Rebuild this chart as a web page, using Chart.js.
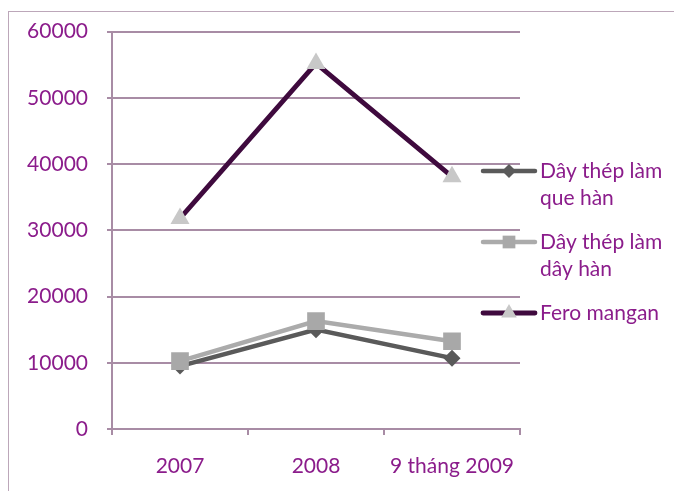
<!DOCTYPE html>
<html>
<head>
<meta charset="utf-8">
<script src="https://cdn.jsdelivr.net/npm/chart.js@4/dist/chart.umd.min.js"></script>
<style>
  html, body { margin: 0; padding: 0; background: #fff; }
  #wrap { position: relative; width: 674px; height: 491px; overflow: hidden; }
  #frame { position: absolute; left: 8px; top: 11px; width: 700px; height: 520px;
           border-left: 1.5px solid #BCA7B9; border-top: 1.5px solid #BCA7B9; box-sizing: border-box; }
  canvas { position: absolute; left: 0; top: 0; }
</style>
</head>
<body>
<div id="wrap">
  <div id="frame"></div>
  <canvas id="c" width="674" height="491"></canvas>
</div>
<script>
// Categories and values
const categories = ['2007', '2008', '9 tháng 2009'];
const queHan = [9500, 15000, 10700];
const dayHan = [10250, 16300, 13250];
const feroMangan = [31800, 55200, 38100];
const yTicks = [0, 10000, 20000, 30000, 40000, 50000, 60000];
const seriesNames = [
  ['Dây thép làm', 'que hàn'],
  ['Dây thép làm', 'dây hàn'],
  ['Fero mangan']
];

const TEXT = '#8B1C8B';
const GRID = '#A88CA5';
const FONT = 'Lato, "Open Sans", sans-serif';

// Legend at the right, with wrapped names
const sideLegend = {
  id: 'sideLegend',
  afterDraw(chart) {
    const ctx = chart.ctx;
    const x0 = 483, x1 = 535, tx = 540;
    const starts = [171, 242, 313];
    const legendRadius = { triangle: 9, rect: 9, rectRot: 7 };
    chart.data.datasets.forEach((ds, i) => {
      const y = starts[i];
      ctx.save();
      ctx.strokeStyle = ds.borderColor;
      ctx.lineWidth = ds.borderWidth;
      ctx.lineCap = 'round';
      ctx.beginPath();
      ctx.moveTo(x0, y);
      ctx.lineTo(x1, y);
      ctx.stroke();
      ctx.fillStyle = ds.pointBackgroundColor;
      Chart.helpers.drawPoint(ctx, {
        pointStyle: ds.pointStyle,
        radius: legendRadius[ds.pointStyle],
        rotation: 0,
        borderWidth: 0
      }, (x0 + x1) / 2, y);
      ctx.fillStyle = TEXT;
      ctx.font = '21px ' + FONT;
      ctx.textBaseline = 'middle';
      ctx.textAlign = 'left';
      seriesNames[i].forEach((line, k) => {
        ctx.fillText(line, tx, y + k * 27);
      });
      ctx.restore();
    });
  }
};

new Chart(document.getElementById('c'), {
  type: 'line',
  data: {
    labels: categories,
    datasets: [
      {
        label: seriesNames[0].join(' '),
        data: queHan,
        borderColor: '#5A5A5A',
        backgroundColor: '#5A5A5A',
        pointBackgroundColor: '#5A5A5A',
        borderWidth: 4.5,
        pointStyle: 'rectRot',
        pointRadius: 8.5,
        pointBorderWidth: 0,
        order: 2
      },
      {
        label: seriesNames[1].join(' '),
        data: dayHan,
        borderColor: '#ABABAB',
        backgroundColor: '#A8A8A8',
        pointBackgroundColor: '#A8A8A8',
        borderWidth: 4.5,
        pointStyle: 'rect',
        pointRadius: 12.5,
        pointBorderWidth: 0,
        order: 1
      },
      {
        label: seriesNames[2].join(' '),
        data: feroMangan,
        borderColor: '#3F0A3E',
        backgroundColor: '#C8C8C8',
        pointBackgroundColor: '#C8C8C8',
        borderWidth: 4.8,
        pointStyle: 'triangle',
        pointRadius: 11,
        pointBorderWidth: 0,
        order: 0
      }
    ]
  },
  options: {
    responsive: false,
    animation: false,
    events: [],
    layout: { padding: { top: 31, right: 154, left: 0, bottom: 0 } },
    plugins: { legend: { display: false }, tooltip: { enabled: false } },
    scales: {
      x: {
        type: 'category',
        offset: true,
        grid: { offset: true, drawOnChartArea: false, drawTicks: true, tickLength: 6, color: GRID, lineWidth: 2 },
        border: { color: GRID, width: 2 },
        ticks: { color: TEXT, font: { family: FONT, size: 21 }, padding: 19, maxRotation: 0 },
        afterFit(scale) { scale.height = 62; }
      },
      y: {
        min: 0,
        max: 60000,
        afterBuildTicks(scale) { scale.ticks = yTicks.map(v => ({ value: v })); },
        grid: { color: GRID, lineWidth: 2, drawTicks: true, tickLength: 5 },
        border: { color: GRID, width: 2 },
        ticks: { color: TEXT, font: { family: FONT, size: 21 }, padding: 19, callback: v => String(v) },
        afterFit(scale) { scale.width = 112; }
      }
    }
  },
  plugins: [sideLegend]
});
</script>
</body>
</html>
